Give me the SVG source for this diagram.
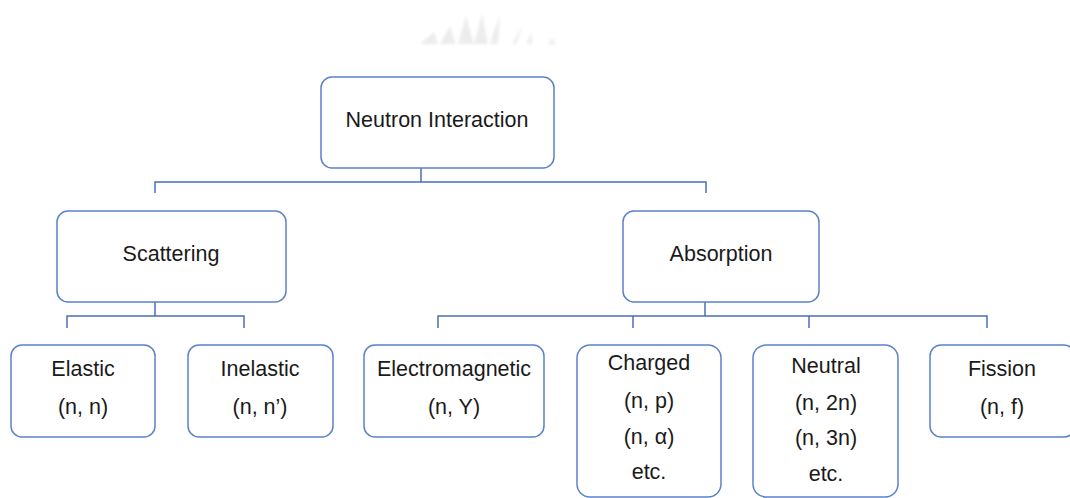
<svg xmlns="http://www.w3.org/2000/svg" width="1070" height="498" viewBox="0 0 1070 498">
  <style>
    .box { fill: #ffffff; stroke: #5b82c9; stroke-width: 1.5; }
    .wire { fill: none; stroke: #4a70b8; stroke-width: 1.5; }
    .stub { fill: none; stroke: #d9e1ef; stroke-width: 1.2; }
    .lbl { font-family: "Liberation Sans", Arial, sans-serif; font-size: 21.5px; fill: #1a1a1a; text-anchor: middle; dominant-baseline: central; }
  </style>
  <defs>
    <filter id="soft" x="-20%" y="-20%" width="140%" height="140%">
      <feGaussianBlur stdDeviation="1.4"/>
    </filter>
  </defs>

  <!-- faint emblem at top -->
  <g id="emblem" fill="#ececec" filter="url(#soft)">
    <polygon points="420,44 434,32 438,44"/>
    <polygon points="440,44 450,26 456,44"/>
    <polygon points="458,44 466,16 474,44"/>
    <polygon points="474,44 482,14 488,44"/>
    <polygon points="490,44 500,14 498,44"/>
    <polygon points="512,44 524,24 516,44"/>
    <polygon points="526,44 532,32 532,44"/>
    <polygon points="548,44 552,38 556,44"/>
  </g>

  <!-- connectors -->
  <g id="connectors">
    <line class="stub" x1="421" y1="155" x2="421" y2="168"/>
    <line class="stub" x1="155" y1="289" x2="155" y2="302"/>
    <line class="stub" x1="705" y1="289" x2="705" y2="302"/>
    <path class="wire" d="M421,168 V182 M155,193 V182 H706 V193"/>
    <path class="wire" d="M155,302 V316 M67,328 V316 H244 V328"/>
    <path class="wire" d="M705,302 V316 M438,328 V316 H987 V328 M633,316 V328 M809,316 V328"/>
  </g>

  <g id="neutron-interaction">
    <rect class="box" x="321" y="77" width="233" height="91" rx="11"/>
    <text class="lbl" x="437" y="120">Neutron Interaction</text>
  </g>

  <g id="scattering">
    <rect class="box" x="57" y="211" width="229" height="91" rx="11"/>
    <text class="lbl" x="171" y="254">Scattering</text>
  </g>

  <g id="absorption">
    <rect class="box" x="623" y="211" width="196" height="91" rx="11"/>
    <text class="lbl" x="721" y="254">Absorption</text>
  </g>

  <g id="elastic">
    <rect class="box" x="11" y="345" width="144" height="92" rx="11"/>
    <text class="lbl" x="83" y="369">Elastic</text>
    <text class="lbl" x="83" y="407">(n, n)</text>
  </g>

  <g id="inelastic">
    <rect class="box" x="188" y="345" width="145" height="92" rx="11"/>
    <text class="lbl" x="260" y="369">Inelastic</text>
    <text class="lbl" x="260" y="407">(n, n’)</text>
  </g>

  <g id="electromagnetic">
    <rect class="box" x="364" y="345" width="180" height="92" rx="11"/>
    <text class="lbl" x="454" y="369">Electromagnetic</text>
    <text class="lbl" x="454" y="407">(n, Y)</text>
  </g>

  <g id="charged">
    <rect class="box" x="577" y="345" width="144" height="152" rx="13"/>
    <text class="lbl" x="649" y="363">Charged</text>
    <text class="lbl" x="649" y="401">(n, p)</text>
    <text class="lbl" x="649" y="437">(n, α)</text>
    <text class="lbl" x="649" y="472">etc.</text>
  </g>

  <g id="neutral">
    <rect class="box" x="753" y="345" width="145" height="152" rx="13"/>
    <text class="lbl" x="826" y="366">Neutral</text>
    <text class="lbl" x="826" y="403">(n, 2n)</text>
    <text class="lbl" x="826" y="438">(n, 3n)</text>
    <text class="lbl" x="826" y="474">etc.</text>
  </g>

  <g id="fission">
    <rect class="box" x="930" y="345" width="145" height="92" rx="11"/>
    <text class="lbl" x="1002" y="369">Fission</text>
    <text class="lbl" x="1002" y="407">(n, f)</text>
  </g>
</svg>
